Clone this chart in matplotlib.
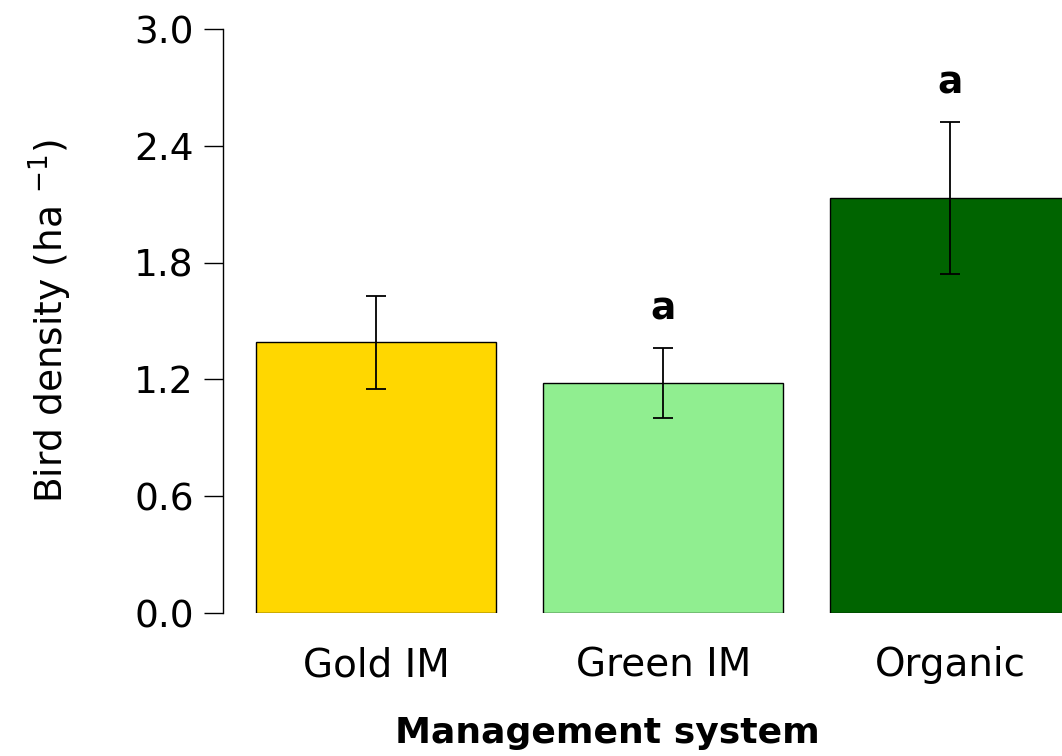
import matplotlib
matplotlib.use("Agg")
import matplotlib.pyplot as plt
import numpy as np

# Datos
systems = ["Gold IM", "Green IM", "Organic"]
density = [1.39, 1.18, 2.13]
se = [0.24, 0.18, 0.39]
letters = ["", "a", "a"]
colors = ["gold", "lightgreen", "darkgreen"]
yticks = [0.0, 0.6, 1.2, 1.8, 2.4, 3.0]

plt.rcParams["font.family"] = ["DejaVu Sans"]
plt.rcParams["mathtext.fontset"] = "dejavusans"

fig = plt.figure(figsize=(10.62, 7.56), dpi=100)
ax = fig.add_axes([223 / 1062, 1 - 613 / 756, 1 - 223 / 1062, (613 - 29) / 756])

x = np.arange(len(systems))
ax.bar(x, density, width=0.837, color=colors, edgecolor="black", linewidth=1.0)
ax.errorbar(x, density, yerr=se, fmt="none", ecolor="black",
            elinewidth=1.3, capsize=7.5, capthick=1.3)

# Letras de significancia
for xi, m, s, lab in zip(x, density, se, letters):
    if lab:
        ax.annotate(lab, (xi, m + s), xytext=(0, 20.5), textcoords="offset points",
                    ha="center", va="baseline", fontsize=27, fontweight="bold")

ax.set_xlim(-0.535, 2.39)
ax.set_ylim(0, 3.0)
ax.set_yticks(yticks)
ax.set_yticklabels([f"{t:.1f}" for t in yticks])
ax.set_xticks(x)
ax.set_xticklabels(systems)

for side in ["top", "right", "bottom"]:
    ax.spines[side].set_visible(False)
ax.spines["left"].set_linewidth(1.0)
ax.tick_params(axis="y", length=14, width=1.0, labelsize=27, pad=7)
ax.tick_params(axis="x", length=0, labelsize=28, pad=24)

fig.text(50 / 1062, 1 - 321 / 756, r"Bird density (ha $^{-1}$)", rotation=90,
         ha="center", va="center", fontsize=27)
fig.text(607 / 1062, 1 - 733 / 756, "Management system", ha="center",
         va="center", fontsize=26, fontweight="bold")

fig.savefig("out.png", dpi=100)
